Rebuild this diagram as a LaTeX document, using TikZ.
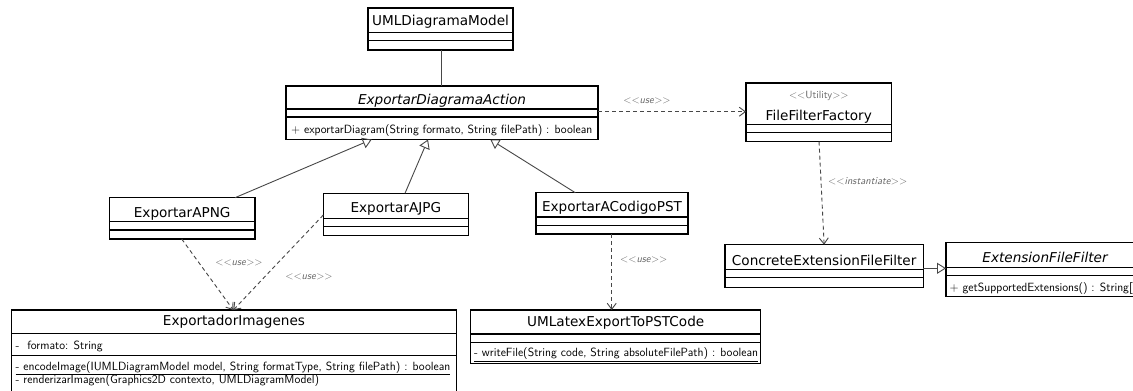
\documentclass[tikz,border=0pt]{standalone}
\usepackage{fontspec}
\newfontfamily\namefont{DejaVu Sans}
\usetikzlibrary{arrows.meta}

\tikzset{
  box/.style={draw=black, line width=1.1pt, fill=white, inner sep=0pt, outer sep=0pt, anchor=north west},
  rule/.style={draw=black, line width=1.1pt},
  cname/.style={inner sep=0pt, anchor=base, font=\namefont\fontsize{13.6}{16}\selectfont},
  cnameit/.style={inner sep=0pt, anchor=base, font=\namefont\itshape\fontsize{13.6}{16}\selectfont},
  member/.style={inner sep=0pt, anchor=base west, font=\sffamily\fontsize{11.9}{14}\selectfont},
  stereo/.style={inner sep=0pt, text=black!60, font=\sffamily\fontsize{10.5}{12}\selectfont},
  conn/.style={draw=black!72, line width=0.9pt},
  gen/.style={conn, -{Triangle[open, length=9pt, width=11pt]}},
  dep/.style={conn, dash pattern=on 4pt off 3pt, -{Straight Barb[length=6pt, width=9pt]}},
}

% stereotype brackets, kept apart so they are not merged into guillemets
\newcommand\stlt{<\kern0pt<}
\newcommand\stgt{>\kern0pt>}

% class box: name, x1, y1, x2, y2, first divider y, second divider y
\newcommand\umlclass[7]{%
  \node[box, minimum width={#4-#2}, minimum height={#5-#3}] (#1) at (#2,#3) {};
  \draw[rule] (#2,#6) -- (#4,#6);
  \draw[rule] (#2,#7) -- (#4,#7);
}

\begin{document}
\begin{tikzpicture}[x=1pt, y=-1pt]
  \useasboundingbox (0,0) rectangle (1133,391);
  \clip (0,0) rectangle (1133,391);
  \fill[white] (0,0) rectangle (1133,391);

  % classes
  \umlclass{model}{368}{8}{513}{50}{32.3}{40.7}
  \umlclass{eda}{286}{86}{598}{139.5}{109}{117}
  \umlclass{fff}{746}{83}{891.7}{141.7}{124.7}{132.7}
  \umlclass{png}{109.3}{197.7}{255}{239}{221.7}{230}
  \umlclass{jpg}{323.3}{193.3}{468.3}{235.3}{218.3}{226.7}
  \umlclass{pst}{536}{192.7}{688}{234}{217}{225.7}
  \umlclass{ceff}{725}{244.7}{923.3}{287.3}{269.3}{277.3}
  \umlclass{eff}{946}{242.7}{1145}{296.7}{267.3}{275.3}
  \umlclass{ei}{11.5}{310}{456.5}{410}{333.3}{355.5}
  \umlclass{ulx}{470.7}{310}{760.7}{363.3}{334}{342.7}

  % names
  \node[cname] (model-n) at (440.5,25) {UMLDiagramaModel};
  \node[cnameit] (eda-n) at (442,104.5) {ExportarDiagramaAction};
  \node[stereo, anchor=base] (fff-s) at (818.8,98.5) {\stlt Utility\stgt};
  \node[cname] (fff-n) at (818.8,120) {FileFilterFactory};
  \node[cname] (png-n) at (182.2,217) {ExportarAPNG};
  \node[cname] (jpg-n) at (395.8,212.7) {ExportarAJPG};
  \node[cname] (pst-n) at (612,211.7) {ExportarACodigoPST};
  \node[cname] (ceff-n) at (824.2,265) {ConcreteExtensionFileFilter};
  \node[cnameit] (eff-n) at (1045,262.7) {ExtensionFileFilter};
  \node[cname] (ei-n) at (234,325.5) {ExportadorImagenes};
  \node[cname] (ulx-n) at (615.7,326) {UMLatexExportToPSTCode};

  % members
  \node[member] (eda-m) at (291,133.8) {+ exportarDiagram(String formato, String filePath) : boolean};
  \node[member] (eff-m) at (949.5,291.8) {+ getSupportedExtensions() : String[]};
  \node[member] (ei-a) at (15.5,349.5) {-~~formato: String};
  \node[member] (ei-m1) at (15.5,370) {\underline{- encodeImage(IUMLDiagramModel model, String formatType, String filePath) : boolean}};
  \node[member] (ei-m2) at (15.5,383.8) {- renderizarImagen(Graphics2D contexto, UMLDiagramModel)};
  \node[member] (ulx-m) at (474,356.5) {\underline{- writeFile(String code, String absoluteFilePath) : boolean}};

  % association
  \draw[conn] ([xshift=1.2pt]model.south) -- ([xshift=-0.3pt]eda.north);

  % generalizations
  \draw[gen] ([xshift=125.7pt]png.north west) -- ([xshift=85.7pt]eda.south west);
  \draw[gen] ([xshift=81.7pt]jpg.north west) -- ([xshift=142pt]eda.south west);
  \draw[gen] ([xshift=39.3pt]pst.north west) -- ([xshift=204.3pt]eda.south west);
  \draw[gen] ([yshift=-23.6pt]ceff.north east) -- ([yshift=-25.6pt]eff.north west);

  % dependencies
  \draw[dep] ([yshift=-25.7pt]eda.north east) -- ([yshift=-28.7pt]fff.north west);
  \draw[dep] ([xshift=0.2pt]fff.south) -- (ceff.north);
  \draw[dep] ([xshift=72.4pt]png.south west) -- ([xshift=221.8pt]ei.north west);
  \draw[dep] ([yshift=-21.7pt]jpg.north west) -- ([xshift=221.8pt]ei.north west);
  \draw[dep] ([xshift=-0.3pt]pst.south) -- ([xshift=-0.3pt]pst.south |- ulx.north);

  % dependency labels
  \node[stereo] (use1) at (647,100.7) {\stlt\textit{use}\stgt};
  \node[stereo, anchor=west] (inst) at (828,181) {\stlt\textit{instantiate}\stgt};
  \node[stereo] (use2) at (239,263.3) {\stlt\textit{use}\stgt};
  \node[stereo] (use3) at (309,276.7) {\stlt\textit{use}\stgt};
  \node[stereo, anchor=west] (use4) at (620,260) {\stlt\textit{use}\stgt};
\end{tikzpicture}
\end{document}
